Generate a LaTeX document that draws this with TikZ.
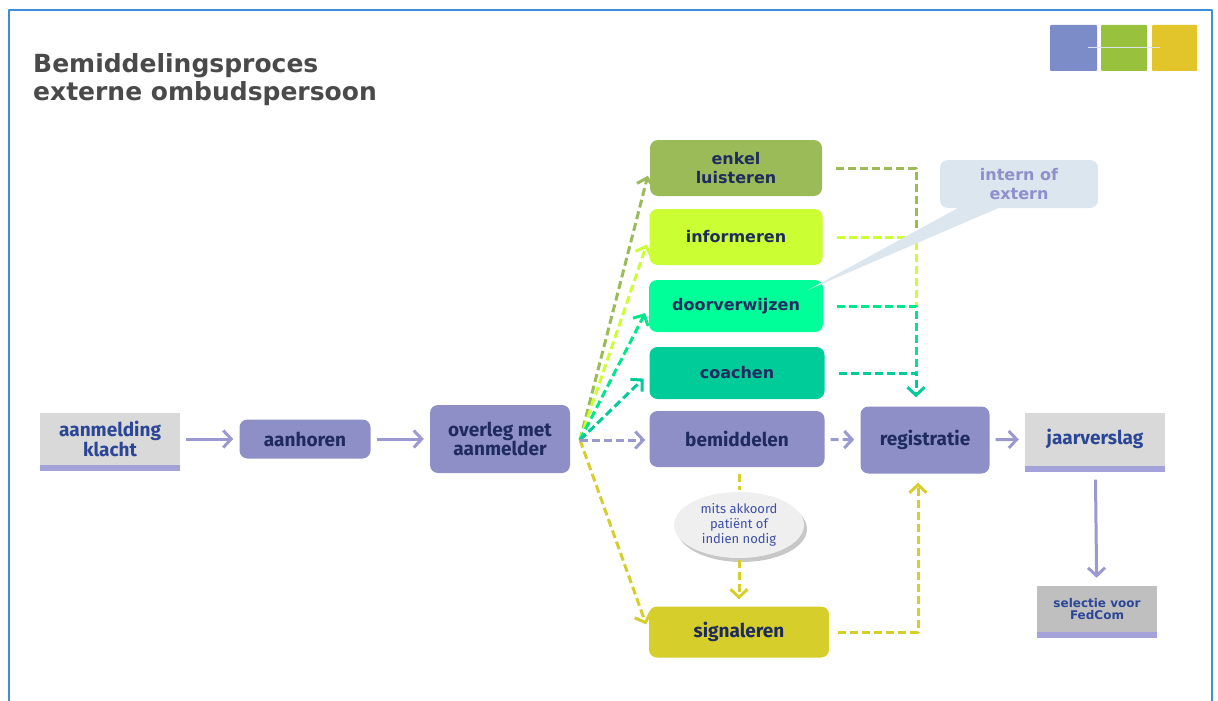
\documentclass[tikz,border=0pt]{standalone}
\usepackage{fontspec}
\setmainfont{Fira Sans}
\newfontfamily\verdana{DejaVu Sans}
\usetikzlibrary{arrows.meta, positioning, shapes.geometric, shadows}
\definecolor{procpurple}{HTML}{8F8FC7}
\definecolor{flowpurple}{HTML}{9A9AD0}
\definecolor{procnavy}{HTML}{1F2B5E}
\definecolor{greyblue}{HTML}{2C4696}
\definecolor{greyfill}{HTML}{D9D9D9}
\definecolor{fedfill}{HTML}{BFBFBF}
\definecolor{lavshadow}{HTML}{A3A3DA}
\definecolor{enkelgreen}{HTML}{9BBB59}
\definecolor{infolime}{HTML}{CCFF33}
\definecolor{doorgreen}{HTML}{00FF99}
\definecolor{doorline}{HTML}{00E68A}
\definecolor{coachteal}{HTML}{00CC99}
\definecolor{signalyellow}{HTML}{D6CE2B}
\definecolor{calloutblue}{HTML}{DCE6EF}
\definecolor{callouttext}{HTML}{8F8FCB}
\definecolor{mitsfill}{HTML}{EFEFEF}
\definecolor{mitstext}{HTML}{3C4FA6}
\definecolor{titlegray}{HTML}{4A4A4A}
\definecolor{frameblue}{HTML}{3D8FD6}
\definecolor{logoblue}{HTML}{7B8CC8}
\definecolor{logogreen}{HTML}{98C13D}
\definecolor{logoyellow}{HTML}{E2C52A}

\tikzset{
  procbox/.style={rounded corners=8pt, fill=procpurple, text=procnavy, align=center,
    inner sep=0pt, font=\bfseries\fontsize{19}{18}\selectfont},
  choicebox/.style={procbox, font=\verdana\bfseries\fontsize{16}{19}\selectfont},
  greybox/.style={fill=greyfill, text=greyblue, align=center, inner sep=0pt,
    font=\bfseries\fontsize{19}{18}\selectfont,
    general shadow={fill=lavshadow, shadow yshift=-6pt}},
  flow/.style={draw=flowpurple, line width=3pt, ->, shorten <=6pt, shorten >=6pt},
  optflow/.style={flow, dash pattern=on 8pt off 4pt}
}

\begin{document}
\begin{tikzpicture}[x=1pt, y=-1pt, >={Straight Barb[length=8pt,width=17pt]}, line join=round]
\useasboundingbox (0,0) rectangle (1218,701);
\draw[frameblue, line width=2pt] (9,701) -- (9,10) -- (1212,10) -- (1212,701);

\node[anchor=north west, align=left, inner sep=0pt, text=titlegray,
      font=\verdana\bfseries\fontsize{25}{28}\selectfont] (title) at (33,53)
      {Bemiddelingsproces\\externe ombudspersoon};

% logo
\fill[logoblue, rounded corners=1pt] (1050,25) rectangle (1097,71);
\fill[logogreen, rounded corners=1pt] (1101,25) rectangle (1147,71);
\fill[logoyellow, rounded corners=1pt] (1152,25) rectangle (1197,71);
\draw[white!75!logoblue, line width=1pt] (1088,48) -- (1160,48);

% main row
\node[greybox, minimum width=140pt, minimum height=52pt] (klacht) at (110,439) {aanmelding\\klacht};
\node[procbox, minimum width=131pt, minimum height=39pt] (aanhoren) at (305,439) {aanhoren};
\node[procbox, minimum width=140pt, minimum height=68pt] (overleg) at (500,439) {overleg met\\aanmelder};
\node[procbox, minimum width=175pt, minimum height=56pt] (bemiddelen) at (737,439) {bemiddelen};
\node[procbox, minimum width=129pt, minimum height=67pt] (registratie) at (925,440) {registratie};
\node[greybox, minimum width=140pt, minimum height=53pt] (jaarverslag) at (1095,439) {jaarverslag};
\node[greybox, fill=fedfill, minimum width=120pt, minimum height=46pt,
      font=\verdana\bfseries\fontsize{12}{12}\selectfont] (fedcom) at (1097,609) {selectie voor\\FedCom};

% choices
\node[choicebox, fill=enkelgreen, minimum width=172pt, minimum height=56pt] (enkel) at (736,168) {enkel\\luisteren};
\node[choicebox, fill=infolime, minimum width=173pt, minimum height=56pt] (informeren) at (736,237) {informeren};
\node[choicebox, fill=doorgreen, minimum width=174pt, minimum height=52pt] (doorverwijzen) at (736,306) {doorverwijzen};
\node[choicebox, fill=coachteal, minimum width=175pt, minimum height=52pt] (coachen) at (737,373) {coachen};
\node[procbox, fill=signalyellow, minimum width=180pt, minimum height=51pt] (signaleren) at (739,632) {signaleren};

\node[ellipse, fill=mitsfill, text=mitstext, align=center, inner sep=0pt,
      minimum width=130pt, minimum height=66pt, font=\fontsize{13}{15}\selectfont,
      general shadow={fill=black!22, shadow xshift=3pt, shadow yshift=-4pt}] (mits) at (739,525)
      {mits akkoord\\patiënt of\\indien nodig};

% connectors
\draw[flow] (klacht) -- (aanhoren);
\draw[flow] (aanhoren) -- (overleg);
\coordinate (fan) at (580,440);
\foreach \n/\c in {enkel/enkelgreen, informeren/infolime, doorverwijzen/doorline,
                   coachen/coachteal, signaleren/signalyellow}
  \draw[optflow, draw=\c, shorten <=0pt, shorten >=8pt] (fan) -- (\n.west);
\draw[optflow, shorten <=0pt, shorten >=4pt] (fan) -- (bemiddelen.west |- fan);

\coordinate (merge) at ([xshift=-9pt]registratie.north);
\draw[optflow, draw=enkelgreen, -, shorten <=14pt, shorten >=0pt] (enkel.east) -| (merge |- informeren.east);
\draw[optflow, draw=infolime, -, shorten <=14pt, shorten >=0pt] (informeren.east) -| (merge |- doorverwijzen.east);
\draw[optflow, draw=doorline, -, shorten <=14pt, shorten >=0pt] (doorverwijzen.east) -| (merge |- coachen.east);
\draw[optflow, draw=coachteal, shorten <=14pt, shorten >=9pt] (coachen.east) -| (merge);

\draw[optflow] (bemiddelen) -- (registratie);
\draw[flow] (registratie) -- (jaarverslag);
\draw[flow, shorten <=14pt, shorten >=8pt] (jaarverslag) -- (fedcom);
\draw[optflow, draw=signalyellow, -, shorten <=7pt, shorten >=2pt] (mits |- bemiddelen.south) -- (mits.north);
\draw[optflow, draw=signalyellow, shorten <=2pt, shorten >=7pt] (mits) -- (signaleren);
\draw[optflow, draw=signalyellow, shorten <=9pt, shorten >=9pt] (signaleren.east) -| ([xshift=-7pt]registratie.south);

% callout
\node[rounded corners=8pt, fill=calloutblue, text=callouttext, align=center,
      minimum width=158pt, minimum height=48pt, inner sep=0pt,
      font=\verdana\bfseries\fontsize{16}{19}\selectfont] (hint) at (1019,184) {intern of\\extern};
\coordinate (hinttip) at (808,290);
\fill[calloutblue] ([xshift=-56pt, yshift=3pt]hint.south) -- ([xshift=-14pt, yshift=3pt]hint.south) -- (hinttip) -- cycle;
\end{tikzpicture}
\end{document}
